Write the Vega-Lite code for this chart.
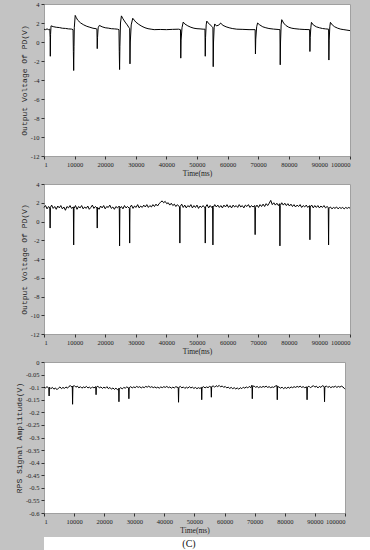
{
  "$schema": "https://vega.github.io/schema/vega-lite/v6.json",
  "background": "#c3c3c3",
  "padding": {"left": 14, "top": 0, "right": 0, "bottom": 0},
  "spacing": 2,
  "datasets": {
    "cf": [
      {"t":1,"v":1.35},{"t":500,"v":1.3},{"t":1000,"v":1.38},{"t":1500,"v":1.3},{"t":1900,"v":1.35},{"t":2000,"v":0.5},{"t":2060,"v":-1.5},{"t":2150,"v":0.8},{"t":2300,"v":1.7},{"t":3000,"v":1.62},{"t":4000,"v":1.55},{"t":5000,"v":1.52},{"t":6000,"v":1.45},{"t":7000,"v":1.43},{"t":8000,"v":1.38},{"t":9000,"v":1.36},{"t":9500,"v":1.3},{"t":9600,"v":-1.0},{"t":9700,"v":-3.0},{"t":9800,"v":-0.5},{"t":9900,"v":1.5},{"t":10200,"v":2.8},{"t":10500,"v":2.6},{"t":11000,"v":2.3},{"t":12000,"v":2.0},{"t":13000,"v":1.8},{"t":14000,"v":1.65},{"t":15000,"v":1.55},{"t":16000,"v":1.45},{"t":17000,"v":1.4},{"t":17300,"v":1.35},{"t":17400,"v":-0.7},{"t":17500,"v":0.5},{"t":17700,"v":1.5},{"t":18100,"v":1.75},{"t":19000,"v":1.6},{"t":20000,"v":1.5},{"t":21000,"v":1.46},{"t":22000,"v":1.4},{"t":23000,"v":1.38},{"t":24000,"v":1.35},{"t":24500,"v":1.3},{"t":24600,"v":-1.0},{"t":24700,"v":-2.9},{"t":24800,"v":-0.5},{"t":25000,"v":2.0},{"t":25300,"v":2.75},{"t":25800,"v":2.45},{"t":26500,"v":2.1},{"t":27200,"v":1.8},{"t":27700,"v":1.55},{"t":28000,"v":1.4},{"t":28100,"v":-2.3},{"t":28200,"v":0.0},{"t":28500,"v":1.8},{"t":29000,"v":2.5},{"t":29500,"v":2.3},{"t":30000,"v":2.1},{"t":31000,"v":1.85},{"t":32000,"v":1.65},{"t":33000,"v":1.5},{"t":34000,"v":1.4},{"t":35000,"v":1.35},{"t":36000,"v":1.3},{"t":38000,"v":1.32},{"t":40000,"v":1.3},{"t":42000,"v":1.33},{"t":44000,"v":1.35},{"t":44600,"v":1.3},{"t":44700,"v":-1.7},{"t":44800,"v":0.2},{"t":45100,"v":1.5},{"t":45500,"v":2.1},{"t":46000,"v":1.9},{"t":47000,"v":1.7},{"t":48000,"v":1.55},{"t":49000,"v":1.45},{"t":50000,"v":1.4},{"t":51000,"v":1.38},{"t":52000,"v":1.35},{"t":52600,"v":1.35},{"t":52700,"v":-1.5},{"t":52800,"v":0.5},{"t":53000,"v":1.8},{"t":53200,"v":2.2},{"t":53700,"v":2.0},{"t":54300,"v":1.8},{"t":55000,"v":1.6},{"t":55200,"v":1.5},{"t":55300,"v":-2.6},{"t":55400,"v":0.0},{"t":55600,"v":1.5},{"t":55800,"v":1.9},{"t":56300,"v":1.7},{"t":56900,"v":1.75},{"t":57400,"v":1.85},{"t":57700,"v":2.0},{"t":58500,"v":1.75},{"t":59500,"v":1.6},{"t":60500,"v":1.5},{"t":61500,"v":1.42},{"t":63000,"v":1.35},{"t":65000,"v":1.33},{"t":67000,"v":1.3},{"t":69000,"v":1.3},{"t":69100,"v":-1.26},{"t":69200,"v":0.3},{"t":69500,"v":1.6},{"t":69800,"v":2.0},{"t":70500,"v":1.8},{"t":71500,"v":1.6},{"t":72500,"v":1.5},{"t":73500,"v":1.42},{"t":75000,"v":1.36},{"t":76500,"v":1.32},{"t":77100,"v":1.3},{"t":77200,"v":-2.4},{"t":77300,"v":0.0},{"t":77500,"v":1.8},{"t":77700,"v":2.35},{"t":78300,"v":2.0},{"t":79000,"v":1.75},{"t":80000,"v":1.55},{"t":81000,"v":1.45},{"t":82000,"v":1.4},{"t":83500,"v":1.35},{"t":85000,"v":1.32},{"t":86800,"v":1.3},{"t":86900,"v":-1.0},{"t":87000,"v":0.5},{"t":87200,"v":1.5},{"t":87400,"v":2.07},{"t":88000,"v":1.8},{"t":89000,"v":1.6},{"t":90000,"v":1.5},{"t":91000,"v":1.42},{"t":92000,"v":1.38},{"t":93000,"v":1.35},{"t":93100,"v":-1.9},{"t":93200,"v":0.2},{"t":93400,"v":1.6},{"t":93600,"v":2.07},{"t":94200,"v":1.8},{"t":95000,"v":1.6},{"t":96000,"v":1.45},{"t":97000,"v":1.35},{"t":98000,"v":1.3},{"t":99000,"v":1.25},{"t":100000,"v":1.2}
    ],
    "sls": [
      {"t":1,"v":1.5},{"t":500,"v":1.7},{"t":1000,"v":1.35},{"t":1500,"v":1.6},{"t":1900,"v":1.45},{"t":2000,"v":-0.7},{"t":2100,"v":1.5},{"t":2500,"v":1.75},{"t":3000,"v":1.4},{"t":3500,"v":1.6},{"t":4000,"v":1.3},{"t":4500,"v":1.65},{"t":5000,"v":1.45},{"t":5500,"v":1.7},{"t":6000,"v":1.35},{"t":6500,"v":1.55},{"t":7000,"v":1.2},{"t":7500,"v":1.6},{"t":8000,"v":1.45},{"t":8500,"v":1.7},{"t":9000,"v":1.4},{"t":9600,"v":1.55},{"t":9700,"v":-2.5},{"t":9800,"v":1.4},{"t":10300,"v":1.7},{"t":10800,"v":1.3},{"t":11300,"v":1.6},{"t":11800,"v":1.45},{"t":12300,"v":1.7},{"t":12800,"v":1.35},{"t":13300,"v":1.55},{"t":13800,"v":1.4},{"t":14300,"v":1.65},{"t":14800,"v":1.3},{"t":15300,"v":1.5},{"t":15800,"v":1.75},{"t":16300,"v":1.4},{"t":16800,"v":1.6},{"t":17300,"v":1.45},{"t":17400,"v":-0.7},{"t":17500,"v":1.5},{"t":18000,"v":1.3},{"t":18500,"v":1.65},{"t":19000,"v":1.45},{"t":19500,"v":1.7},{"t":20000,"v":1.35},{"t":20500,"v":1.6},{"t":21000,"v":1.5},{"t":21500,"v":1.75},{"t":22000,"v":1.4},{"t":22500,"v":1.55},{"t":23000,"v":1.3},{"t":23500,"v":1.6},{"t":24000,"v":1.45},{"t":24600,"v":1.65},{"t":24700,"v":-2.6},{"t":24800,"v":1.4},{"t":25300,"v":1.6},{"t":25800,"v":1.35},{"t":26300,"v":1.7},{"t":26800,"v":1.45},{"t":27300,"v":1.6},{"t":27900,"v":1.4},{"t":28000,"v":-2.3},{"t":28100,"v":1.5},{"t":28600,"v":1.75},{"t":29100,"v":1.4},{"t":29600,"v":1.65},{"t":30100,"v":1.5},{"t":30600,"v":1.8},{"t":31100,"v":1.45},{"t":31600,"v":1.65},{"t":32100,"v":1.5},{"t":32600,"v":1.75},{"t":33100,"v":1.55},{"t":33600,"v":1.8},{"t":34100,"v":1.5},{"t":34600,"v":1.7},{"t":35100,"v":1.55},{"t":35600,"v":1.8},{"t":36100,"v":1.6},{"t":36600,"v":1.85},{"t":37100,"v":1.65},{"t":37600,"v":1.9},{"t":38100,"v":2.05},{"t":38600,"v":2.2},{"t":39100,"v":2.0},{"t":39600,"v":2.15},{"t":40100,"v":1.9},{"t":40600,"v":2.0},{"t":41100,"v":1.75},{"t":41600,"v":1.95},{"t":42100,"v":1.7},{"t":42600,"v":1.85},{"t":43100,"v":1.6},{"t":43600,"v":1.8},{"t":44300,"v":1.55},{"t":44400,"v":-2.3},{"t":44500,"v":1.6},{"t":45000,"v":1.85},{"t":45500,"v":1.5},{"t":46000,"v":1.75},{"t":46500,"v":1.45},{"t":47000,"v":1.7},{"t":47500,"v":1.55},{"t":48000,"v":1.8},{"t":48500,"v":1.45},{"t":49000,"v":1.7},{"t":49500,"v":1.5},{"t":50000,"v":1.75},{"t":50500,"v":1.4},{"t":51000,"v":1.65},{"t":51500,"v":1.5},{"t":52000,"v":1.7},{"t":52600,"v":1.45},{"t":52700,"v":-2.3},{"t":52800,"v":1.55},{"t":53300,"v":1.8},{"t":53800,"v":1.45},{"t":54300,"v":1.7},{"t":54800,"v":1.5},{"t":55100,"v":1.65},{"t":55200,"v":-2.5},{"t":55300,"v":1.5},{"t":55800,"v":1.8},{"t":56300,"v":1.55},{"t":56800,"v":1.75},{"t":57300,"v":1.5},{"t":57800,"v":1.7},{"t":58300,"v":1.45},{"t":58800,"v":1.75},{"t":59300,"v":1.55},{"t":59800,"v":1.8},{"t":60300,"v":1.5},{"t":60800,"v":1.7},{"t":61300,"v":1.45},{"t":61800,"v":1.75},{"t":62300,"v":1.55},{"t":62800,"v":1.7},{"t":63300,"v":1.5},{"t":63800,"v":1.8},{"t":64300,"v":1.55},{"t":64800,"v":1.7},{"t":65300,"v":1.45},{"t":65800,"v":1.75},{"t":66300,"v":1.6},{"t":66800,"v":1.8},{"t":67300,"v":1.5},{"t":67800,"v":1.7},{"t":68300,"v":1.55},{"t":68900,"v":1.7},{"t":69000,"v":-1.4},{"t":69100,"v":1.5},{"t":69600,"v":1.75},{"t":70100,"v":1.5},{"t":70600,"v":1.8},{"t":71100,"v":1.6},{"t":71600,"v":1.85},{"t":72100,"v":1.6},{"t":72600,"v":1.9},{"t":73100,"v":1.7},{"t":73600,"v":1.95},{"t":74100,"v":2.25},{"t":74600,"v":1.8},{"t":75100,"v":2.0},{"t":75600,"v":1.75},{"t":76100,"v":1.95},{"t":76600,"v":1.7},{"t":77000,"v":1.9},{"t":77100,"v":-2.6},{"t":77200,"v":1.7},{"t":77700,"v":2.0},{"t":78200,"v":1.75},{"t":78700,"v":1.95},{"t":79200,"v":1.7},{"t":79700,"v":1.9},{"t":80200,"v":1.65},{"t":80700,"v":1.85},{"t":81200,"v":1.6},{"t":81700,"v":1.8},{"t":82200,"v":1.55},{"t":82700,"v":1.75},{"t":83200,"v":1.6},{"t":83700,"v":1.8},{"t":84200,"v":1.5},{"t":84700,"v":1.7},{"t":85200,"v":1.55},{"t":85700,"v":1.75},{"t":86200,"v":1.5},{"t":86800,"v":1.7},{"t":86900,"v":-1.95},{"t":87000,"v":1.55},{"t":87500,"v":1.75},{"t":88000,"v":1.45},{"t":88500,"v":1.7},{"t":89000,"v":1.5},{"t":89500,"v":1.7},{"t":90000,"v":1.45},{"t":90500,"v":1.65},{"t":91000,"v":1.5},{"t":91500,"v":1.7},{"t":92000,"v":1.45},{"t":92500,"v":1.6},{"t":92900,"v":1.5},{"t":93000,"v":-2.5},{"t":93100,"v":1.4},{"t":93600,"v":1.55},{"t":94100,"v":1.35},{"t":94600,"v":1.5},{"t":95100,"v":1.4},{"t":95600,"v":1.55},{"t":96100,"v":1.35},{"t":96600,"v":1.5},{"t":97100,"v":1.4},{"t":97600,"v":1.5},{"t":98100,"v":1.35},{"t":98600,"v":1.5},{"t":99100,"v":1.4},{"t":99600,"v":1.5},{"t":100000,"v":1.42}
    ],
    "rps": [
      {"t":1,"v":-0.1},{"t":500,"v":-0.103},{"t":1000,"v":-0.098},{"t":1600,"v":-0.104},{"t":1700,"v":-0.135},{"t":1800,"v":-0.1},{"t":2300,"v":-0.106},{"t":2800,"v":-0.101},{"t":3300,"v":-0.108},{"t":3800,"v":-0.103},{"t":4300,"v":-0.11},{"t":4800,"v":-0.104},{"t":5300,"v":-0.099},{"t":5800,"v":-0.106},{"t":6300,"v":-0.101},{"t":6800,"v":-0.105},{"t":7300,"v":-0.099},{"t":7800,"v":-0.104},{"t":8300,"v":-0.097},{"t":8800,"v":-0.094},{"t":9300,"v":-0.1},{"t":9400,"v":-0.096},{"t":9500,"v":-0.168},{"t":9600,"v":-0.097},{"t":10100,"v":-0.094},{"t":10600,"v":-0.1},{"t":11100,"v":-0.096},{"t":11600,"v":-0.103},{"t":12100,"v":-0.098},{"t":12600,"v":-0.104},{"t":13100,"v":-0.099},{"t":13600,"v":-0.102},{"t":14100,"v":-0.097},{"t":14600,"v":-0.103},{"t":15100,"v":-0.1},{"t":15600,"v":-0.105},{"t":16100,"v":-0.099},{"t":16600,"v":-0.103},{"t":17200,"v":-0.098},{"t":17300,"v":-0.13},{"t":17400,"v":-0.1},{"t":17900,"v":-0.096},{"t":18400,"v":-0.103},{"t":18900,"v":-0.099},{"t":19400,"v":-0.105},{"t":19900,"v":-0.1},{"t":20400,"v":-0.104},{"t":20900,"v":-0.098},{"t":21400,"v":-0.106},{"t":21900,"v":-0.101},{"t":22400,"v":-0.108},{"t":22900,"v":-0.103},{"t":23400,"v":-0.109},{"t":23900,"v":-0.104},{"t":24400,"v":-0.11},{"t":24800,"v":-0.105},{"t":24900,"v":-0.158},{"t":25000,"v":-0.106},{"t":25500,"v":-0.102},{"t":26000,"v":-0.107},{"t":26500,"v":-0.101},{"t":27000,"v":-0.104},{"t":27500,"v":-0.099},{"t":28100,"v":-0.103},{"t":28200,"v":-0.146},{"t":28300,"v":-0.102},{"t":28800,"v":-0.098},{"t":29300,"v":-0.103},{"t":29800,"v":-0.099},{"t":30300,"v":-0.102},{"t":30800,"v":-0.097},{"t":31300,"v":-0.101},{"t":31800,"v":-0.098},{"t":32300,"v":-0.103},{"t":32800,"v":-0.099},{"t":33300,"v":-0.102},{"t":33800,"v":-0.097},{"t":34300,"v":-0.1},{"t":34800,"v":-0.096},{"t":35300,"v":-0.101},{"t":35800,"v":-0.098},{"t":36300,"v":-0.102},{"t":36800,"v":-0.099},{"t":37300,"v":-0.103},{"t":37800,"v":-0.1},{"t":38300,"v":-0.104},{"t":38800,"v":-0.099},{"t":39300,"v":-0.102},{"t":39800,"v":-0.098},{"t":40300,"v":-0.101},{"t":40800,"v":-0.097},{"t":41300,"v":-0.102},{"t":41800,"v":-0.099},{"t":42300,"v":-0.104},{"t":42800,"v":-0.1},{"t":43300,"v":-0.103},{"t":43800,"v":-0.098},{"t":44600,"v":-0.102},{"t":44700,"v":-0.16},{"t":44800,"v":-0.101},{"t":45300,"v":-0.097},{"t":45800,"v":-0.103},{"t":46300,"v":-0.099},{"t":46800,"v":-0.105},{"t":47300,"v":-0.1},{"t":47800,"v":-0.104},{"t":48300,"v":-0.098},{"t":48800,"v":-0.103},{"t":49300,"v":-0.1},{"t":49800,"v":-0.105},{"t":50300,"v":-0.101},{"t":50800,"v":-0.106},{"t":51300,"v":-0.102},{"t":51800,"v":-0.105},{"t":52300,"v":-0.101},{"t":52400,"v":-0.15},{"t":52500,"v":-0.102},{"t":53000,"v":-0.098},{"t":53500,"v":-0.103},{"t":54000,"v":-0.099},{"t":54500,"v":-0.102},{"t":55000,"v":-0.097},{"t":55500,"v":-0.1},{"t":55600,"v":-0.14},{"t":55700,"v":-0.098},{"t":56200,"v":-0.095},{"t":56700,"v":-0.1},{"t":57200,"v":-0.094},{"t":57700,"v":-0.098},{"t":58200,"v":-0.093},{"t":58700,"v":-0.099},{"t":59200,"v":-0.095},{"t":59700,"v":-0.101},{"t":60200,"v":-0.097},{"t":60700,"v":-0.103},{"t":61200,"v":-0.1},{"t":61700,"v":-0.105},{"t":62200,"v":-0.101},{"t":62700,"v":-0.106},{"t":63200,"v":-0.102},{"t":63700,"v":-0.107},{"t":64200,"v":-0.103},{"t":64700,"v":-0.108},{"t":65200,"v":-0.102},{"t":65700,"v":-0.106},{"t":66200,"v":-0.1},{"t":66700,"v":-0.104},{"t":67200,"v":-0.099},{"t":67700,"v":-0.103},{"t":68200,"v":-0.097},{"t":68700,"v":-0.102},{"t":69100,"v":-0.092},{"t":69200,"v":-0.146},{"t":69300,"v":-0.098},{"t":69800,"v":-0.095},{"t":70300,"v":-0.101},{"t":70800,"v":-0.097},{"t":71300,"v":-0.102},{"t":71800,"v":-0.098},{"t":72300,"v":-0.101},{"t":72800,"v":-0.097},{"t":73300,"v":-0.1},{"t":73800,"v":-0.096},{"t":74300,"v":-0.101},{"t":74800,"v":-0.098},{"t":75300,"v":-0.102},{"t":75800,"v":-0.099},{"t":76300,"v":-0.101},{"t":76800,"v":-0.096},{"t":77400,"v":-0.094},{"t":77500,"v":-0.15},{"t":77600,"v":-0.097},{"t":78100,"v":-0.1},{"t":78600,"v":-0.104},{"t":79100,"v":-0.1},{"t":79600,"v":-0.106},{"t":80100,"v":-0.101},{"t":80600,"v":-0.105},{"t":81100,"v":-0.1},{"t":81600,"v":-0.104},{"t":82100,"v":-0.099},{"t":82600,"v":-0.102},{"t":83100,"v":-0.098},{"t":83600,"v":-0.101},{"t":84100,"v":-0.097},{"t":84600,"v":-0.1},{"t":85100,"v":-0.096},{"t":85600,"v":-0.101},{"t":86100,"v":-0.098},{"t":86600,"v":-0.102},{"t":87300,"v":-0.099},{"t":87400,"v":-0.15},{"t":87500,"v":-0.1},{"t":88000,"v":-0.096},{"t":88500,"v":-0.102},{"t":89000,"v":-0.098},{"t":89500,"v":-0.094},{"t":90000,"v":-0.1},{"t":90500,"v":-0.096},{"t":91000,"v":-0.103},{"t":91500,"v":-0.097},{"t":92000,"v":-0.101},{"t":92500,"v":-0.094},{"t":93100,"v":-0.098},{"t":93200,"v":-0.158},{"t":93300,"v":-0.1},{"t":93800,"v":-0.095},{"t":94300,"v":-0.101},{"t":94800,"v":-0.097},{"t":95300,"v":-0.102},{"t":95800,"v":-0.098},{"t":96300,"v":-0.1},{"t":96800,"v":-0.096},{"t":97300,"v":-0.101},{"t":97800,"v":-0.097},{"t":98300,"v":-0.1},{"t":98800,"v":-0.096},{"t":99300,"v":-0.099},{"t":99700,"v":-0.104},{"t":100000,"v":-0.108}
    ]
  },
  "vconcat": [
    {
      "width": 306, "height": 152,
      "layer": [
        {
          "data": {"name": "cf"},
          "mark": {"type": "line", "color": "black", "strokeWidth": 1},
          "encoding": {
            "x": {"field": "t", "type": "quantitative", "scale": {"domain": [1, 100000], "nice": false}, "axis": {"title": "Time(ms)", "tickCount": 30, "values": [1,10000,20000,30000,40000,50000,60000,70000,80000,90000,100000], "format": "d"}},
            "y": {"field": "v", "type": "quantitative", "scale": {"domain": [-12, 4], "nice": false}, "axis": {"title": "Output Voltage Of PD(V)", "tickCount": 30, "values": [-12,-10,-8,-6,-4,-2,0,2,4], "labelExpr": "replace(format(datum.value, '~g'), '−', '-')"}}
          }
        },
        {
          "mark": {"type": "text", "align": "left", "baseline": "middle", "fontSize": 9, "font": "Liberation Serif", "color": "#111"},
          "encoding": {"x": {"datum": 2500}, "y": {"datum": 2.85}, "text": {"value": "(a)"}}
        },
        {
          "mark": {"type": "text", "align": "left", "baseline": "middle", "fontSize": 9, "font": "Liberation Serif", "color": "#111"},
          "encoding": {"x": {"datum": 13700}, "y": {"datum": 2.85}, "text": {"value": "CF"}}
        }
      ]
    },
    {
      "width": 306, "height": 150,
      "layer": [
        {
          "data": {"name": "sls"},
          "mark": {"type": "line", "color": "black", "strokeWidth": 1},
          "encoding": {
            "x": {"field": "t", "type": "quantitative", "scale": {"domain": [1, 100000], "nice": false}, "axis": {"title": "Time(ms)", "tickCount": 30, "values": [1,10000,20000,30000,40000,50000,60000,70000,80000,90000,100000], "format": "d"}},
            "y": {"field": "v", "type": "quantitative", "scale": {"domain": [-12, 4], "nice": false}, "axis": {"title": "Output Voltage Of PD(V)", "tickCount": 30, "values": [-12,-10,-8,-6,-4,-2,0,2,4], "labelExpr": "replace(format(datum.value, '~g'), '−', '-')"}}
          }
        },
        {
          "mark": {"type": "text", "align": "left", "baseline": "middle", "fontSize": 9, "font": "Liberation Serif", "color": "#111"},
          "encoding": {"x": {"datum": 2300}, "y": {"datum": 2.86}, "text": {"value": "(b)"}}
        },
        {
          "mark": {"type": "text", "align": "left", "baseline": "middle", "fontSize": 9, "font": "Liberation Serif", "fontStyle": "italic", "color": "#111"},
          "encoding": {"x": {"datum": 10500}, "y": {"datum": 2.86}, "text": {"value": "SLS"}}
        }
      ]
    },
    {
      "width": 301, "height": 151,
      "layer": [
        {
          "data": {"name": "rps"},
          "mark": {"type": "line", "color": "black", "strokeWidth": 1},
          "encoding": {
            "x": {"field": "t", "type": "quantitative", "scale": {"domain": [1, 100000], "nice": false}, "axis": {"title": "Time(ms)", "tickCount": 30, "values": [1,10000,20000,30000,40000,50000,60000,70000,80000,90000,100000], "format": "d"}},
            "y": {"field": "v", "type": "quantitative", "scale": {"domain": [-0.6, 0], "nice": false}, "axis": {"title": "RPS Signal Amplitude(V)", "tickCount": 30, "values": [-0.6,-0.55,-0.5,-0.45,-0.4,-0.35,-0.3,-0.25,-0.2,-0.15,-0.1,-0.05,0], "labelExpr": "replace(format(datum.value, '~g'), '−', '-')"}}
          }
        },
        {
          "mark": {"type": "text", "align": "left", "baseline": "middle", "fontSize": 9, "font": "Liberation Serif", "color": "#111"},
          "encoding": {"x": {"datum": 1600}, "y": {"datum": -0.04}, "text": {"value": "(c)"}}
        },
        {
          "mark": {"type": "text", "align": "left", "baseline": "middle", "fontSize": 9, "font": "Liberation Serif", "color": "#111"},
          "encoding": {"x": {"datum": 9600}, "y": {"datum": -0.04}, "text": {"value": "RPS"}}
        }
      ]
    },
    {
      "width": 330, "height": 14,
      "view": {"stroke": null, "fill": "white"},
      "data": {"values": [{"label": "(C)"}]},
      "mark": {"type": "text", "fontSize": 10, "font": "Liberation Serif", "color": "#111", "dx": -20},
      "encoding": {"text": {"field": "label", "type": "nominal"}}
    }
  ],
  "config": {
    "view": {"stroke": "#a0a0a0", "fill": "white"},
    "axis": {
      "grid": false, "domain": false, "tickSize": 3, "tickColor": "#333", "labelPadding": 2, "labelOverlap": false,
      "labelFont": "Liberation Serif", "labelFontSize": 6.5, "labelColor": "#222",
      "titleFont": "Liberation Mono", "titleFontSize": 8, "titleFontWeight": "normal", "titleColor": "#222", "titlePadding": 2
    },
    "axisX": {"titleFont": "Liberation Serif", "titleFontSize": 7.5}
  }
}
